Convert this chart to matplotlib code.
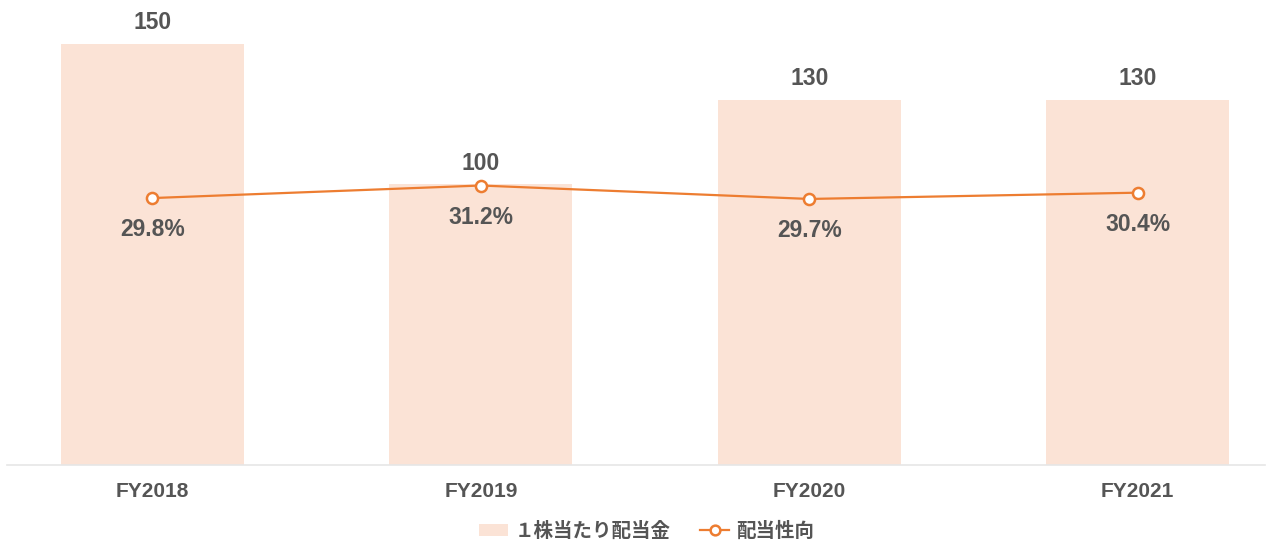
import matplotlib.pyplot as plt
from matplotlib.lines import Line2D
from matplotlib.patches import Patch

plt.rcParams['font.family'] = ['Liberation Sans', 'Noto Sans CJK JP', 'DejaVu Sans']

# --- データ ---
years = ['FY2018', 'FY2019', 'FY2020', 'FY2021']
dividend = [150, 100, 130, 130]          # 1株当たり配当金
payout_ratio = [29.8, 31.2, 29.7, 30.4]  # 配当性向 (%)

BAR_COLOR = '#FBE3D6'
LINE_COLOR = '#ED7D31'
TEXT_COLOR = '#555555'

fig = plt.figure(figsize=(12.73, 5.44), dpi=100)
ax = fig.add_axes([0.0055, 0.145, 0.988, 0.855])
x = range(len(years))

bars = ax.bar(x, dividend, width=0.557, color=BAR_COLOR, zorder=1)
ax.set_xlim(-0.443, 3.387)
ax.set_ylim(0, 165.6)
for b, v in zip(bars, dividend):
    ax.annotate(f'{v}', xy=(b.get_x() + b.get_width() / 2, v), xytext=(0, 10.5),
                textcoords='offset points', ha='center', va='baseline',
                fontsize=16.5, fontweight='bold', color=TEXT_COLOR)

ax.set_xticks(list(x))
ax.set_xticklabels(years, fontsize=15, fontweight='bold', color=TEXT_COLOR)
ax.tick_params(axis='x', length=0, pad=12.5)
ax.set_yticks([])
for s in ['top', 'right', 'left']:
    ax.spines[s].set_visible(False)
ax.spines['bottom'].set_color('#E6E6E6')
ax.spines['bottom'].set_linewidth(1.2)

ax2 = ax.twinx()
ax2.plot(list(x), payout_ratio, color=LINE_COLOR, lw=1.6, marker='o', ms=8,
         markerfacecolor='white', markeredgecolor=LINE_COLOR, markeredgewidth=1.8, zorder=3)
ax2.set_ylim(0, 51.9)
ax2.set_yticks([])
for s in ax2.spines.values():
    s.set_visible(False)
for i, v in enumerate(payout_ratio):
    ax2.annotate(f'{v:.1f}%', xy=(i, v), xytext=(0, -27.5),
                 textcoords='offset points', ha='center', va='baseline',
                 fontsize=16.5, fontweight='bold', color=TEXT_COLOR)

handles = [Patch(facecolor=BAR_COLOR, edgecolor='none'),
           Line2D([0], [0], color=LINE_COLOR, lw=1.6, marker='o', ms=7,
                  markerfacecolor='white', markeredgewidth=1.8)]
labels = ['１株当たり配当金', '配当性向']
leg = fig.legend(handles, labels, loc='center', bbox_to_anchor=(0.508, 0.024),
                 ncol=2, frameon=False, fontsize=14, handlelength=1.5,
                 handleheight=0.6, columnspacing=1.5, handletextpad=0.35)
for t in leg.get_texts():
    t.set_color(TEXT_COLOR)
    t.set_fontweight('bold')

fig.savefig('out.png', dpi=100)
